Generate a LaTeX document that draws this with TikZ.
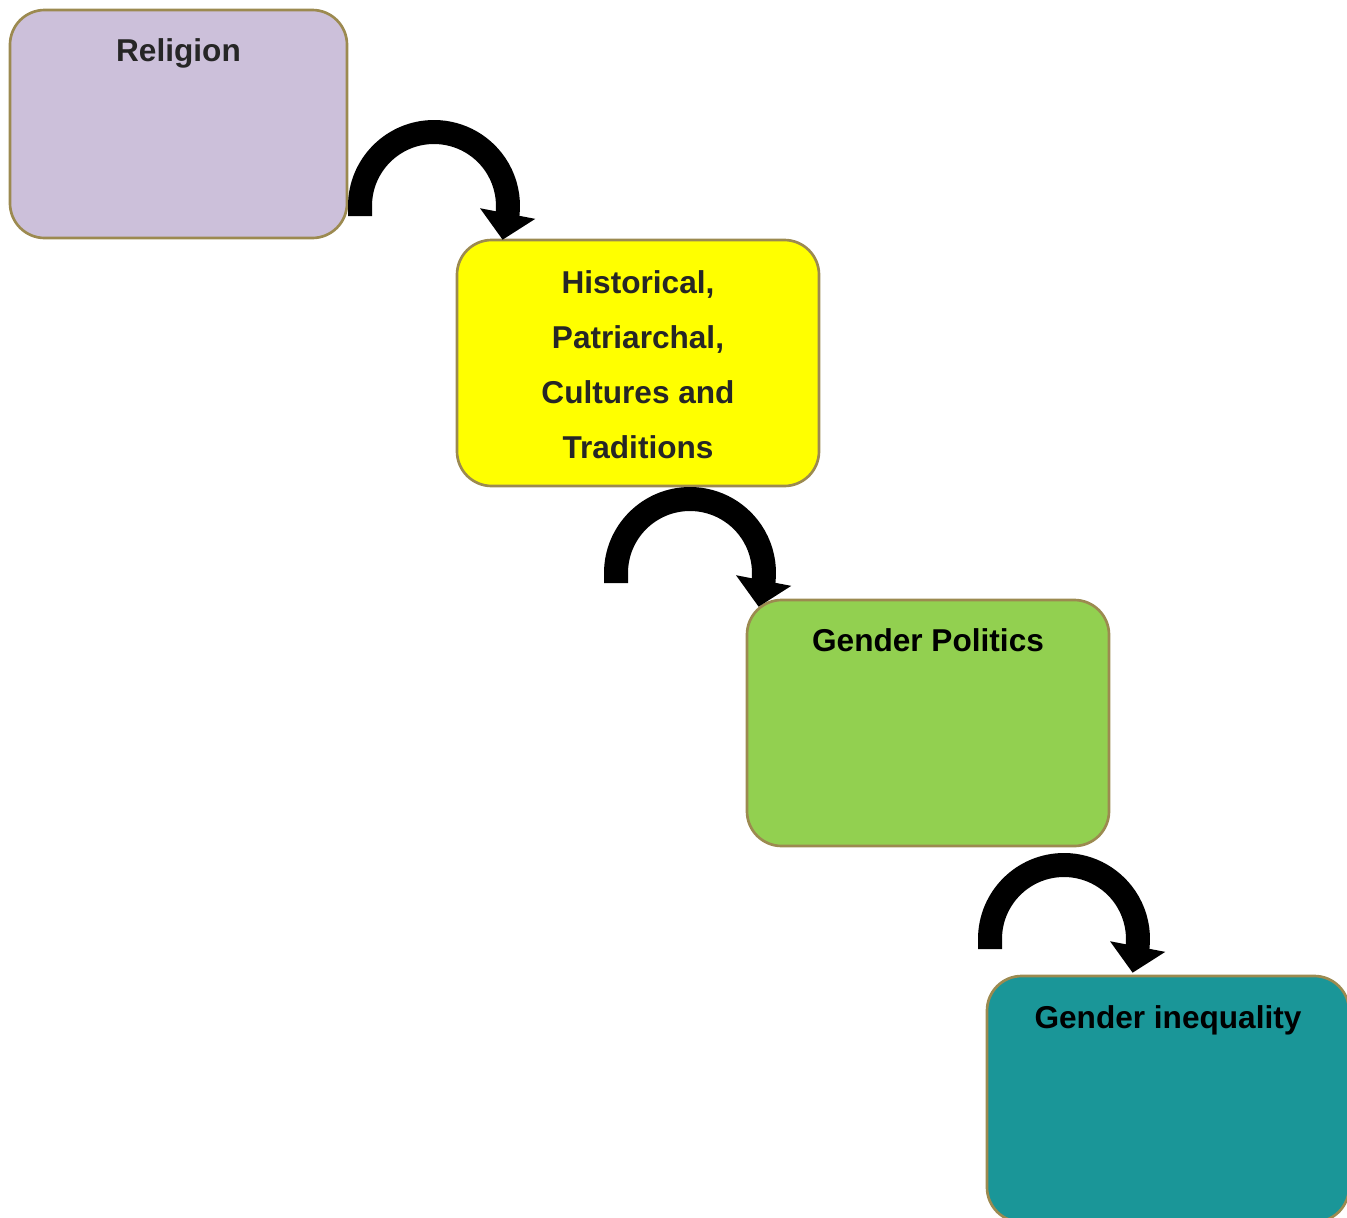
\documentclass[tikz,border=0pt]{standalone}
\usepackage{fontspec}
\setmainfont{Liberation Sans}
\usetikzlibrary{arrows.meta}

\definecolor{lavender}{HTML}{CCC0DA}
\definecolor{boxyellow}{HTML}{FFFF00}
\definecolor{boxgreen}{HTML}{92D050}
\definecolor{boxteal}{HTML}{1A9698}
\definecolor{rim}{HTML}{9C8A50}
\definecolor{ink}{HTML}{262626}

\tikzset{
	box/.style={draw=rim, line width=2pt, rounded corners=26pt, minimum width=271.5pt, minimum height=184.5pt, inner sep=0pt},
	title/.style={anchor=base, font=\fontsize{23.7}{28}\selectfont\bfseries},
	curl/.style={line width=18pt, -{Triangle[width=41pt,length=20pt]}}
}

\begin{document}
\begin{tikzpicture}[x=0.75pt, y=-0.75pt]
	\useasboundingbox (0,0) rectangle (1347,1218);
	\clip (0,0) rectangle (1347,1218);
	\node[box, fill=lavender, minimum width=252.75pt, minimum height=171pt] (rel) at (178.5,124) {};
	\node[box, fill=boxyellow, text=ink, align=center, font=\fontsize{23.7}{41.25}\selectfont\bfseries] (hist) at (638,363) {};
	\node[text=ink, align=center, font=\fontsize{23.7}{41.25}\selectfont\bfseries] (histT) at (638,365) {Historical,\\Patriarchal,\\Cultures and\\Traditions};
	\node[box, fill=boxgreen] (pol) at (928,723) {};
	\node[box, fill=boxteal] (ineq) at (1168,1099) {};
	\node[title, text=ink] (relT) at ([yshift=-39.75pt]rel.north) {Religion};
	\node[title] (polT) at ([yshift=-39.75pt]pol.north) {Gender Politics};
	\node[title] (ineqT) at ([yshift=-40.5pt]ineq.north) {Gender inequality};
	\coordinate (foot1) at (360,216);
	\coordinate (foot2) at (616,583);
	\coordinate (foot3) at (990,949);
	\foreach \f in {foot1,foot2,foot3}
		\draw[curl] (\f) -- ++(0,-10) arc[start angle=180, end angle=-6, radius=55.5pt] -- ++(-5,26);
\end{tikzpicture}
\end{document}
